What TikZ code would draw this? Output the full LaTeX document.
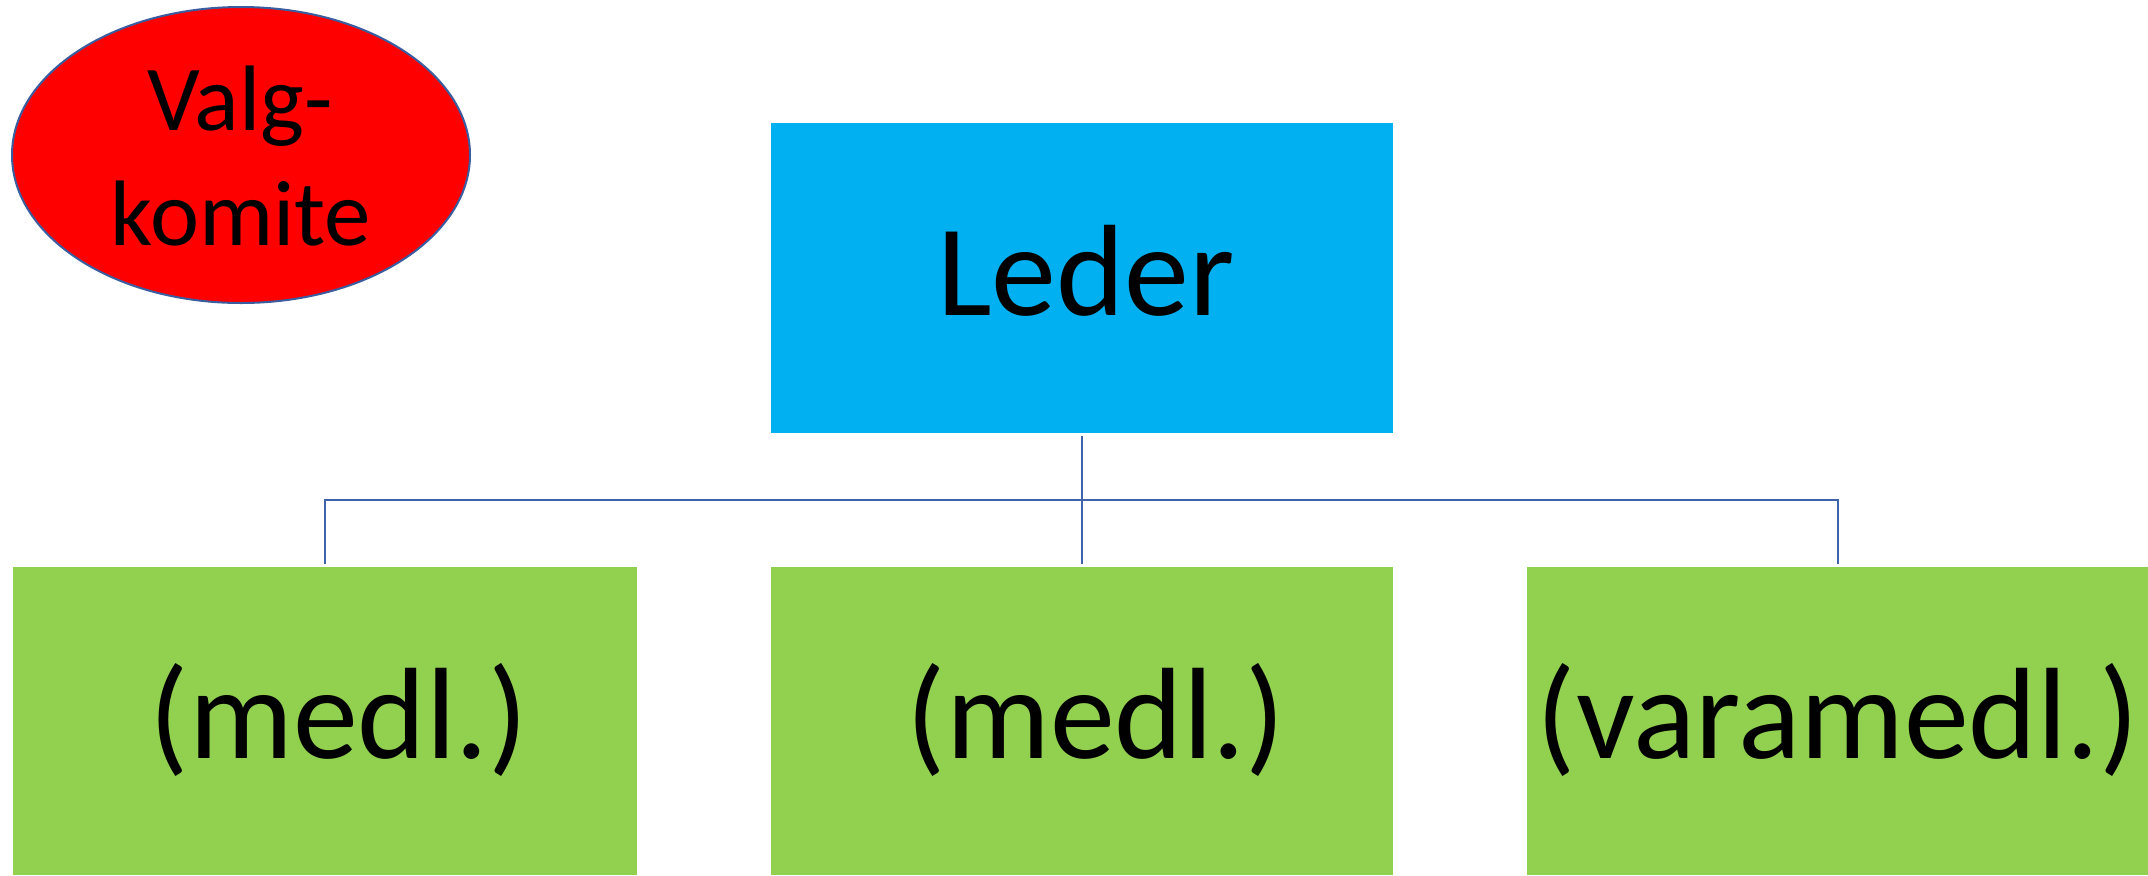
\documentclass[tikz,border=0pt]{standalone}
\usepackage{fontspec}
\setmainfont{Carlito}
\usetikzlibrary{shapes.geometric}
\definecolor{leaderblue}{HTML}{00B0F0}
\definecolor{membergreen}{HTML}{92D050}
\definecolor{connblue}{RGB}{63,98,170}
\definecolor{ellborder}{RGB}{58,93,160}
\tikzset{
  orgbox/.style={rectangle, inner sep=0pt, outer sep=0pt, draw=none},
  bigtext/.style={inner sep=0pt, anchor=base, text=black, font=\fontsize{65pt}{78pt}\selectfont},
  elltext/.style={inner sep=0pt, anchor=base, text=black, font=\fontsize{46.5pt}{57.5pt}\selectfont},
  conn/.style={draw=connblue, line width=1pt}
}
\begin{document}
\begin{tikzpicture}[x=0.5pt, y=-0.5pt]
\useasboundingbox (0,0) rectangle (2148,875);
% ellipse
\node[ellipse, draw=ellborder, line width=1pt, fill=red, minimum width=229pt, minimum height=148pt, inner sep=0pt] (valg) at (241,155) {};
\node[elltext] (valgA) at (240,130) {Valg-};
\node[elltext] (valgB) at (241,245) {komite};
% leader
\node[orgbox, fill=leaderblue, minimum width=311pt, minimum height=155pt] (leader) at (1082,278) {};
\node[bigtext] (leadertxt) at (1086,315) {Leder};
% members
\node[orgbox, fill=membergreen, minimum width=312pt, minimum height=154pt] (m1) at (325,721) {};
\node[orgbox, fill=membergreen, minimum width=311pt, minimum height=154pt] (m2) at (1082,721) {};
\node[orgbox, fill=membergreen, minimum width=310.5pt, minimum height=154pt] (m3) at (1837.5,721) {};
\node[bigtext] (t1) at (339,758) {(medl.)};
\node[bigtext] (t2) at (1096,758) {(medl.)};
\node[bigtext] (t3) at (1838,758) {(varamedl.)};
% connectors
\coordinate (hub) at (1082,500);
\draw[conn, shorten <=1.5pt] (leader.south) -- (hub);
\draw[conn, shorten >=1.5pt] (hub) -| (m1.north);
\draw[conn, shorten >=1.5pt] (hub) -- (m2.north);
\draw[conn, shorten >=1.5pt] (hub) -| (m3.north);
\end{tikzpicture}
\end{document}
